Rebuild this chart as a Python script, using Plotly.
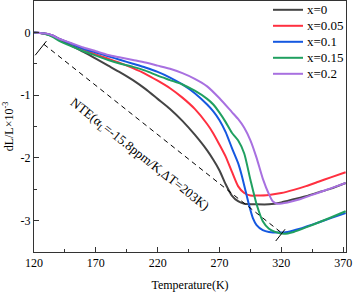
import plotly.graph_objects as go
import numpy as np

# ---------------- data ----------------
T_x0 = [120,125,130,135,140,150,160,170,180,190,200,210,220,230,240,250,260,265,270,275,280,285,290,300,310,320,330,340,350,360,372]
Y_x0 = [0,-0.01,-0.03,-0.06,-0.11,-0.21,-0.31,-0.42,-0.53,-0.64,-0.76,-0.90,-1.06,-1.22,-1.41,-1.63,-1.88,-2.03,-2.20,-2.42,-2.60,-2.69,-2.73,-2.74,-2.74,-2.71,-2.66,-2.61,-2.55,-2.49,-2.40]

T_x005 = [120,125,130,135,140,150,160,170,180,190,200,210,220,230,240,250,260,265,270,275,280,285,290,295,300,310,320,330,340,350,360,372]
Y_x005 = [0,-0.01,-0.02,-0.05,-0.10,-0.18,-0.27,-0.35,-0.42,-0.49,-0.57,-0.66,-0.77,-0.89,-1.04,-1.22,-1.46,-1.61,-1.79,-1.98,-2.22,-2.45,-2.56,-2.60,-2.60,-2.59,-2.56,-2.51,-2.45,-2.38,-2.31,-2.23]

T_x01 = [120,125,130,135,140,150,160,170,180,190,200,210,220,230,240,250,260,265,270,275,280,285,288,291,294,297,300,305,310,318,325,335,341,350,360,372]
Y_x01 = [0,-0.01,-0.02,-0.05,-0.10,-0.18,-0.26,-0.32,-0.38,-0.44,-0.50,-0.56,-0.63,-0.72,-0.83,-0.97,-1.15,-1.26,-1.40,-1.59,-1.84,-2.08,-2.28,-2.52,-2.76,-2.96,-3.07,-3.15,-3.18,-3.19,-3.18,-3.13,-3.09,-3.03,-2.96,-2.88]

T_x015 = [120,125,130,135,140,150,160,170,180,190,200,210,220,230,240,250,260,265,270,275,280,285,290,295,300,305,310,315,322,330,341,350,360,372]
Y_x015 = [0,-0.01,-0.03,-0.07,-0.13,-0.22,-0.30,-0.37,-0.44,-0.50,-0.55,-0.61,-0.69,-0.76,-0.83,-0.93,-1.06,-1.15,-1.28,-1.43,-1.60,-1.72,-1.93,-2.35,-2.74,-3.01,-3.13,-3.18,-3.21,-3.18,-3.10,-3.03,-2.95,-2.85]

T_x02 = [120,125,130,135,140,150,160,170,180,190,200,210,220,230,240,250,260,270,280,285,290,295,300,305,310,313,317,325,335,345,355,365,372]
Y_x02 = [0,-0.01,-0.02,-0.05,-0.10,-0.17,-0.24,-0.30,-0.36,-0.40,-0.44,-0.48,-0.53,-0.58,-0.65,-0.74,-0.86,-1.05,-1.27,-1.38,-1.52,-1.72,-2.00,-2.33,-2.58,-2.69,-2.73,-2.71,-2.66,-2.59,-2.52,-2.45,-2.40]

series_names = ["x=0", "x=0.05", "x=0.1", "x=0.15", "x=0.2"]
series_T = [T_x0, T_x005, T_x01, T_x015, T_x02]
series_Y = [Y_x0, Y_x005, Y_x01, Y_x015, Y_x02]
series_colors = ["#444444", "#FF3040", "#1558E0", "#20A060", "#A870E0"]

x_ticks = [120, 170, 220, 270, 320, 370]
y_ticks = [0, -1, -2, -3]
y_ticktext = ["0", "-1", "-2", "-3"]

# NTE guide line (start/end in data units)
nte_T = [128.0, 320.5]
nte_Y = [-0.19, -3.20]
nte_label = "NTE(α<sub>L</sub>=-15.8ppm/K,ΔT=203K)"

# ---------------- figure ----------------
W, H = 353, 293
ML, MR, MT, MB = 34, 7, 1, 41
x_range = [120, 372.3]
y_range = [-3.5, 0.5]
FONT = "Liberation Serif, Times New Roman, serif"

fig = go.Figure()
for n, T, Y, c in zip(series_names, series_T, series_Y, series_colors):
    fig.add_trace(go.Scatter(x=T, y=Y, mode="lines", name=n, showlegend=False,
                             line=dict(color=c, width=2, shape="spline", smoothing=0.6)))

# pixel scale for drawing perpendicular end marks
pw = W - ML - MR
ph = H - MT - MB
sx = pw / (x_range[1] - x_range[0])
sy = ph / (y_range[1] - y_range[0])
dxp = (nte_T[1] - nte_T[0]) * sx
dyp = (nte_Y[1] - nte_Y[0]) * sy   # negative (downwards)
L = np.hypot(dxp, dyp)
ux, uy = dyp / L, -dxp / L          # unit perpendicular pointing down-left

def perp(T0, Y0, a, b):
    return dict(type="line", xref="x", yref="y",
                x0=T0 + ux * a / sx, y0=Y0 + uy * a / sy,
                x1=T0 - ux * b / sx, y1=Y0 - uy * b / sy,
                line=dict(color="black", width=1))

shapes = [
    dict(type="line", xref="x", yref="y", x0=nte_T[0], y0=nte_Y[0], x1=nte_T[1], y1=nte_Y[1],
         line=dict(color="black", width=1, dash="5px,4px")),
    perp(nte_T[0], nte_Y[0], 14, 4),
    perp(nte_T[1], nte_Y[1], 10, 5),
]

# manual legend (pixel layout converted to paper coords)
def px2paper_x(px):
    return (px - ML) / pw
def py2paper_y(py):
    return (H - MB - py) / ph

annotations = [dict(x=205, y=-1.95, xref="x", yref="y", text=nte_label, showarrow=False,
                    textangle=38.3, font=dict(family=FONT, size=13, color="black"),
                    xanchor="center", yanchor="middle")]
leg_x0, leg_x1, leg_tx = 273, 303, 305
leg_y0, leg_dy = 9.8, 16
for i, (n, c) in enumerate(zip(series_names, series_colors)):
    yy = py2paper_y(leg_y0 + i * leg_dy)
    shapes.append(dict(type="line", xref="paper", yref="paper",
                       x0=px2paper_x(leg_x0), x1=px2paper_x(leg_x1), y0=yy, y1=yy,
                       line=dict(color=c, width=2)))
    annotations.append(dict(x=px2paper_x(leg_tx), y=yy, xref="paper", yref="paper",
                            text=n, showarrow=False, xanchor="left", yanchor="middle",
                            font=dict(family=FONT, size=13, color="black")))

fig.update_layout(
    width=W, height=H,
    margin=dict(l=ML, r=MR, t=MT, b=MB, autoexpand=False),
    paper_bgcolor="white", plot_bgcolor="white",
    font=dict(family=FONT, size=12, color="black"),
    shapes=shapes,
    annotations=annotations,
    showlegend=False,
)
fig.update_xaxes(range=x_range, tickvals=x_ticks, ticks="inside", ticklen=5, tickcolor="#333",
                 showline=True, linecolor="#333", linewidth=1, mirror=True,
                 showgrid=False, zeroline=False, automargin=False,
                 minor=dict(ticks="inside", ticklen=3, dtick=25, tick0=120, tickcolor="#333", showgrid=False),
                 tickfont=dict(family=FONT, size=12),
                 title=dict(text="Temperature(K)", font=dict(family=FONT, size=12), standoff=11))
fig.update_yaxes(range=y_range, tickvals=y_ticks, ticktext=y_ticktext, ticks="inside", ticklen=5,
                 tickcolor="#333", showline=True, linecolor="#333", linewidth=1, mirror=True,
                 showgrid=False, zeroline=False, automargin=False,
                 minor=dict(ticks="inside", ticklen=3, dtick=0.5, tick0=0, tickcolor="#333", showgrid=False),
                 tickfont=dict(family=FONT, size=12),
                 title=dict(text="dL/L×10<sup>-3</sup>", font=dict(family=FONT, size=12), standoff=4))

fig.write_html("out.html", config={"displayModeBar": False},
               post_script="document.body.style.margin='0px';document.body.style.overflow='hidden';")
